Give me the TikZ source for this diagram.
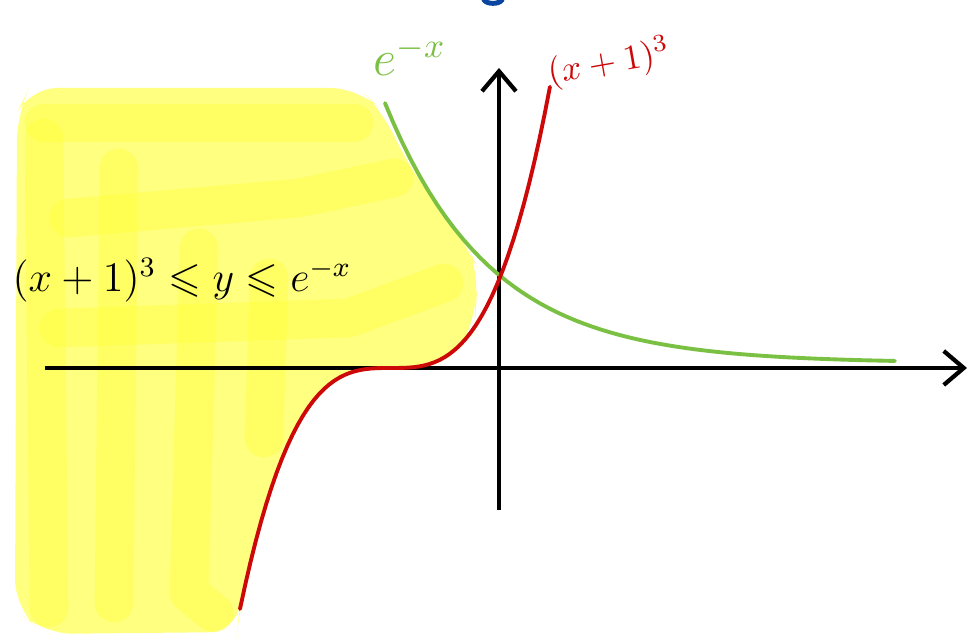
\documentclass[tikz,border=0pt]{standalone}
\usepackage{amssymb}
\usetikzlibrary{arrows.meta}
\definecolor{curvegreen}{RGB}{122,192,66}
\definecolor{curvered}{RGB}{204,8,8}
\definecolor{penblue}{RGB}{10,70,160}
\definecolor{hilite}{RGB}{255,255,128}
\definecolor{hilitedark}{RGB}{255,255,50}
\begin{document}
\begin{tikzpicture}[
		axis/.style = {line width=1.2pt, -{Straight Barb[length=2mm,width=3.4mm]}},
		graph/.style = {line width=1.1pt, line cap=round},
		marker/.style = {hilitedark, opacity=0.35, line width=11pt, line cap=round, line join=round}]
			\useasboundingbox (-4.99,-2.71) rectangle (4.70,3.68);
			\fill[hilite, rounded corners=8pt] (-4.82,2.55) -- (-4.70,2.80) -- (-1.40,2.80) -- (-1.15,2.55) -- (-0.95,2.10) -- (-0.60,1.60) -- (-0.30,1.20) -- (-0.20,0.95) -- (-0.24,0.60)
				-- plot[domain=-0.24:-2.60, samples=30] (\x, {0.7*(\x+1.08)*(\x+1.08)*(\x+1.08)})
				-- (-2.62,-2.64) -- (-4.55,-2.66) -- (-4.84,-2.40) -- cycle;
			\draw[marker] (-4.55,2.45) -- (-1.45,2.45);
			\draw[marker] (-4.55,2.30) -- (-4.50,-2.40);
			\draw[marker] (-3.80,2.00) -- (-3.85,-2.35);
			\draw[marker] (-3.00,1.20) -- (-3.10,-2.25) -- (-2.85,-2.45);
			\draw[marker] (-4.40,0.40) -- (-1.50,0.50) -- (-0.55,0.85);
			\draw[marker] (-4.30,1.50) -- (-2.00,1.70) -- (-1.05,1.90);
			\draw[marker] (-2.30,0.90) -- (-2.35,-0.70);
			\coordinate (xmin) at (-4.54,0);
			\coordinate (xmax) at (4.68,0);
			\coordinate (ymin) at (0,-1.42);
			\coordinate (ymax) at (0,3.00);
			\draw[axis] (xmin) -- (xmax);
			\draw[axis] (ymin) -- (ymax);
			\draw[graph, curvegreen] plot[domain=-1.14:3.96, samples=60] (\x, {0.05+0.88*exp(-0.95*\x)});
			\draw[graph, curvered] plot[domain=-2.59:0.51, samples=60] (\x, {0.7*(\x+1.08)*(\x+1.08)*(\x+1.08)});
			\draw[penblue, line width=1.4pt, line cap=round] (-0.15,3.68) .. controls (-0.12,3.635) and (0.00,3.635) .. (0.03,3.68);
			\node[curvegreen, font=\Large] (explabel) at (-0.89,3.12) {$e^{-x}$};
			\node[curvered, rotate=10] (cubelabel) at (1.10,3.05) {$(x+1)^3$};
			\node[font=\large] (ineq) at (-3.17,0.88) {$(x+1)^3\leqslant y\leqslant e^{-x}$};
		\end{tikzpicture}
\end{document}
